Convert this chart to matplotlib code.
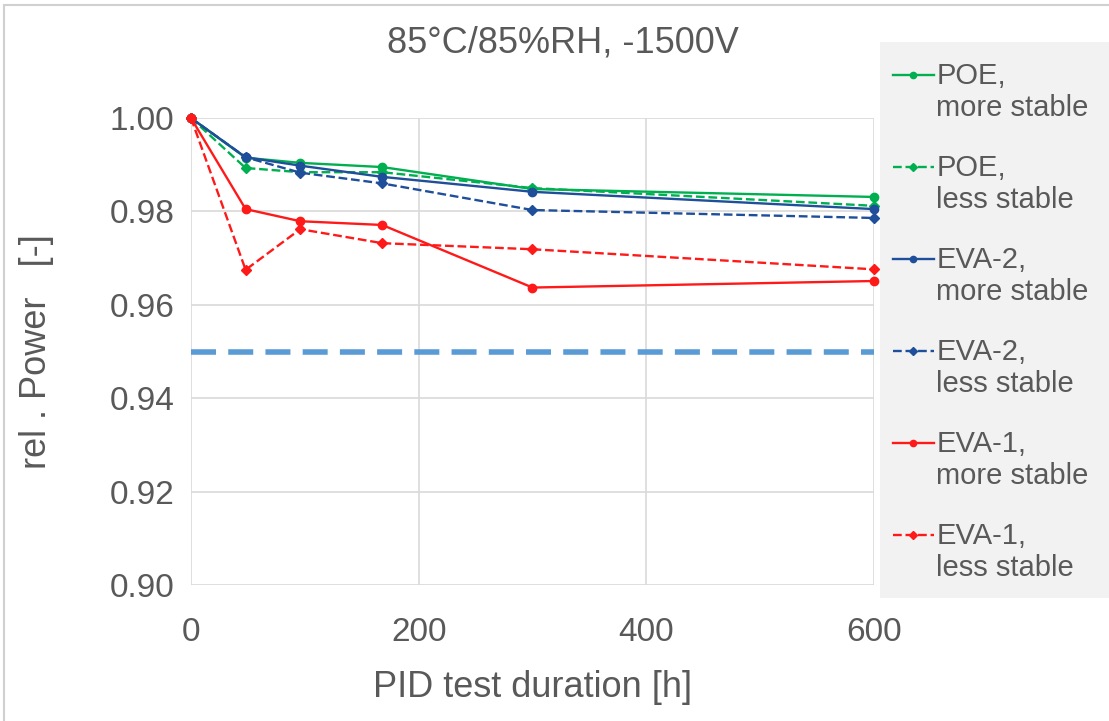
import matplotlib
matplotlib.use('Agg')
import matplotlib.pyplot as plt
from matplotlib.patches import Rectangle
from matplotlib.legend_handler import HandlerLine2D
import numpy as np

plt.rcParams['font.family'] = ['Liberation Sans', 'DejaVu Sans']

hours = [0, 48, 96, 168, 300, 600]

poe_more = [1.0, 0.9915, 0.9904, 0.9895, 0.9848, 0.9831]
poe_less = [1.0, 0.9893, 0.9884, 0.9884, 0.9850, 0.9812]
eva2_more = [1.0, 0.9916, 0.9898, 0.9874, 0.9842, 0.9805]
eva2_less = [1.0, 0.9916, 0.9883, 0.9860, 0.9803, 0.9786]
eva1_more = [1.0, 0.9805, 0.9779, 0.9771, 0.9637, 0.9651]
eva1_less = [1.0, 0.9675, 0.9762, 0.9732, 0.9719, 0.9676]

limit = 0.95

labels = ['POE,\nmore stable', 'POE,\nless stable',
          'EVA-2,\nmore stable', 'EVA-2,\nless stable',
          'EVA-1,\nmore stable', 'EVA-1,\nless stable']

green = '#00b050'
blue = '#1f4e9a'
red = '#ff1a1a'
txt = '#595959'


class FirstLineHandler(HandlerLine2D):
    # put the legend marker next to the first line of a two line label
    def create_artists(self, legend, orig_handle, xdescent, ydescent,
                       width, height, fontsize, trans):
        shift = 0.5 * 1.2 * fontsize
        return super().create_artists(legend, orig_handle, xdescent,
                                      ydescent - 2 * shift, width, height,
                                      fontsize, trans)


fig = plt.figure(figsize=(11.09, 7.21), dpi=100)
ax = fig.add_axes([0.1722, 0.1886, 0.6159, 0.6477])

ax.axhline(limit, color='#5b9bd5', lw=4, dashes=(4.5, 2.2), zorder=2)

series = [(poe_more, green, '-', 'o'), (poe_less, green, '--', 'D'),
          (eva2_more, blue, '-', 'o'), (eva2_less, blue, '--', 'D'),
          (eva1_more, red, '-', 'o'), (eva1_less, red, '--', 'D')]
lines = []
for (vals, c, ls, m), lab in zip(series, labels):
    ms = 6 if m == 'o' else 5.5
    ln, = ax.plot(hours, vals, color=c, ls=ls, lw=1.7, marker=m, ms=ms,
                  label=lab, clip_on=False, zorder=3)
    lines.append(ln)

ax.set_xlim(0, 600)
ax.set_ylim(0.90, 1.00)
ax.set_xticks([0, 200, 400, 600])
ax.set_yticks(np.arange(0.90, 1.001, 0.02))
ax.set_yticklabels(['%.2f' % v for v in np.arange(0.90, 1.001, 0.02)])
ax.grid(True, color='#d9d9d9', lw=1.2)
ax.set_axisbelow(True)
for s in ax.spines.values():
    s.set_visible(False)
ax.tick_params(length=0, labelsize=24, colors=txt)
ax.tick_params(axis='x', pad=23)
ax.tick_params(axis='y', pad=12)

ax.set_xlabel('PID test duration [h]', fontsize=26, color=txt, labelpad=16)
ax.set_ylabel('rel . Power   [-]', fontsize=26, color=txt, labelpad=40)

fig.text(0.508, 0.94, '85°C/85%RH, -1500V', fontsize=26, color=txt,
         ha='center', va='center')

# grey legend panel and outer frame
fig.add_artist(Rectangle((0.7935, 0.1706), 0.21, 0.7711,
                         transform=fig.transFigure, facecolor='#f2f2f2',
                         edgecolor='none', zorder=0))
fig.add_artist(Rectangle((0.0036, -0.01), 1.0, 1.0 - 0.0069 + 0.01,
                         transform=fig.transFigure, fill=False,
                         edgecolor='#d0d0d0', lw=1.5, zorder=5))

leg = fig.legend(handles=lines, labels=labels, loc='upper left',
                 bbox_to_anchor=(0.8052, 0.914), frameon=False, fontsize=21,
                 borderpad=0, borderaxespad=0,
                 handlelength=1.4, handletextpad=0.08, labelspacing=1.08,
                 numpoints=1, markerscale=0.75,
                 handler_map={ln: FirstLineHandler() for ln in lines})
for t in leg.get_texts():
    t.set_color(txt)

fig.savefig('out.png', dpi=100)
